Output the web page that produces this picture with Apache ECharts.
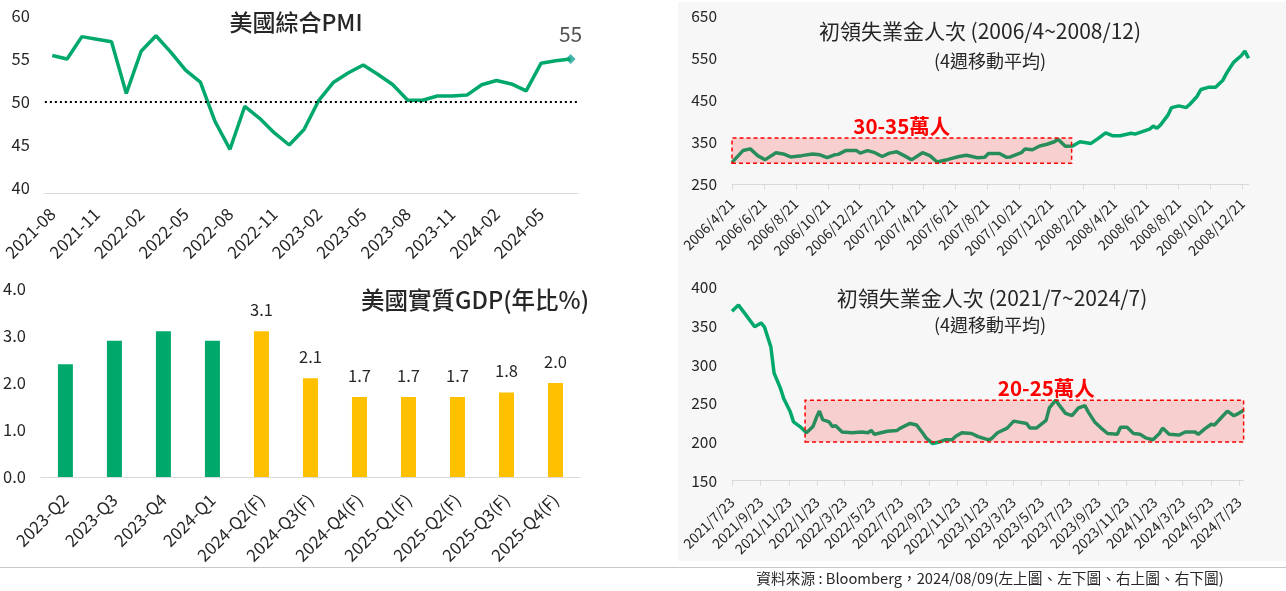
<!DOCTYPE html>
<html>
<head>
<meta charset="utf-8">
<script src="https://cdn.jsdelivr.net/npm/echarts@6/dist/echarts.min.js"></script>
<style>
html, body { margin: 0; padding: 0; background: #fff; }
#wrap { position: relative; width: 1286px; height: 591px; }
#panel { position: absolute; left: 678px; top: 2px; width: 608px; height: 559px; background: #f7f7f7; }
#rule { position: absolute; left: 0; top: 567px; width: 1286px; height: 1px; background: #c8c8c8; }
#main { position: absolute; left: 0; top: 0; width: 1286px; height: 591px; }
</style>
</head>
<body>
<div id="wrap"><div id="panel"></div><div id="rule"></div><div id="main"></div></div>
<script>
// 左上: 美國綜合PMI (2021-08 ~ 2024-07)
var pmiMonths = [];
(function () {
	var y = 2021, m = 8;
	for (var i = 0; i < 36; i++) {
		pmiMonths.push(y + '-' + (m < 10 ? '0' : '') + m);
		m++;
		if (m > 12) { m = 1; y++; }
	}
})();
var pmiValues = [55.4, 55.0, 57.6, 57.3, 57.0, 51.0, 55.9, 57.7, 55.8, 53.7, 52.3, 47.7,
	44.5, 49.5, 48.1, 46.4, 45.0, 46.8, 50.2, 52.3, 53.4, 54.3, 53.2, 52.0,
	50.2, 50.2, 50.7, 50.7, 50.8, 52.0, 52.5, 52.1, 51.3, 54.5, 54.8, 55.0];
var pmiLine = 50;

// 左下: 美國實質GDP(年比%)
var gdpQuarters = ['2023-Q2', '2023-Q3', '2023-Q4', '2024-Q1', '2024-Q2(F)', '2024-Q3(F)',
	'2024-Q4(F)', '2025-Q1(F)', '2025-Q2(F)', '2025-Q3(F)', '2025-Q4(F)'];
var gdpValues = [2.4, 2.9, 3.1, 2.9, 3.1, 2.1, 1.7, 1.7, 1.7, 1.8, 2.0];

// 右上: 初領失業金人次 (千人, 4週移動平均), 週數由 2006/4/21 起算
var topStart = '2006/4/21';
var topWeeks = [0, 3, 5, 7, 9, 12, 14, 16, 19, 22, 24, 26, 28, 29, 31, 34, 35, 37, 39, 41,
	43, 45, 47, 49, 52, 54, 56, 59, 62, 64, 67, 69, 70, 73, 75, 76, 79, 80, 82, 84,
	86, 88, 89, 91, 93, 95, 98, 100, 102, 104, 106, 109, 110, 112, 114, 115, 116, 117, 119, 120,
	122, 124, 125, 127, 128, 130, 132, 134, 135, 136, 137, 139, 140, 141];
var topClaims = [302, 330, 334, 318, 308, 325, 322, 315, 318, 322, 320, 313, 320, 321, 330, 330, 324, 330, 325, 316,
	324, 327, 318, 308, 325, 318, 303, 309, 316, 319, 313, 314, 323, 323, 314, 315, 325, 334, 332, 341,
	345, 351, 357, 340, 341, 351, 347, 359, 372, 365, 365, 371, 369, 375, 381, 388, 383, 391, 414, 432,
	436, 432, 440, 459, 475, 480, 480, 497, 513, 527, 540, 555, 566, 549];
var topTicks = ['2006/4/21', '2006/6/21', '2006/8/21', '2006/10/21', '2006/12/21', '2007/2/21',
	'2007/4/21', '2007/6/21', '2007/8/21', '2007/10/21', '2007/12/21', '2008/2/21', '2008/4/21',
	'2008/6/21', '2008/8/21', '2008/10/21', '2008/12/21'];
var topBandDates = ['2006/4/16', '2008/1/30'];
var topBand = [300, 360];

// 右下: 初領失業金人次 (千人, 4週移動平均), 週數由 2021/7/23 起算
var botStart = '2021/7/23';
var botWeeks = [0, 2, 4, 7, 9, 10, 12, 13, 15, 16, 18, 19, 21, 23, 25, 26, 27, 28, 30, 31,
	32, 34, 37, 40, 42, 43, 44, 46, 48, 51, 52, 55, 57, 59, 60, 62, 64, 66, 68, 69,
	71, 74, 76, 79, 80, 82, 85, 87, 91, 92, 94, 97, 98, 100, 101, 103, 105, 107, 109, 110,
	112, 114, 116, 119, 120, 122, 124, 126, 128, 130, 132, 133, 135, 138, 140, 143, 144, 146, 148, 149,
	151, 153, 155, 156, 158];
var botClaims = [369, 377, 366, 349, 354, 349, 323, 289, 269, 256, 239, 226, 220, 212, 220, 231, 240, 229, 226, 220,
	221, 213, 212, 213, 212, 215, 210, 212, 214, 215, 218, 224, 222, 211, 205, 198, 200, 203, 203, 207,
	212, 211, 207, 203, 204, 212, 218, 227, 224, 218, 218, 228, 244, 254, 248, 237, 234, 244, 247, 239,
	226, 218, 211, 210, 219, 219, 211, 210, 205, 203, 211, 218, 210, 209, 213, 213, 210, 217, 223, 222,
	231, 240, 234, 236, 241];
var botTicks = ['2021/7/23', '2021/9/23', '2021/11/23', '2022/1/23', '2022/3/23', '2022/5/23',
	'2022/7/23', '2022/9/23', '2022/11/23', '2023/1/23', '2023/3/23', '2023/5/23', '2023/7/23',
	'2023/9/23', '2023/11/23', '2024/1/23', '2024/3/23', '2024/5/23', '2024/7/23'];
var botBandDates = ['2021/12/28', '2024/8/18'];
var botBand = [200, 254];

var FONT = '"Noto Sans CJK TC", "Noto Sans", sans-serif';
var TXT = '#262626';
var GREEN = '#00a86b';
var AXIS = '#d9d9d9';

function dayDiff(from, to) {
	var a = from.split('/'), b = to.split('/');
	return (Date.UTC(+b[0], b[1] - 1, +b[2]) - Date.UTC(+a[0], a[1] - 1, +a[2])) / 86400000;
}

var topTickDays = topTicks.map(function (t) { return dayDiff(topStart, t); });
var botTickDays = botTicks.map(function (t) { return dayDiff(botStart, t); });
var topData = topWeeks.map(function (w, i) { return [w * 7, topClaims[i]]; });
var botData = botWeeks.map(function (w, i) { return [w * 7, botClaims[i]]; });

function dateAxis(grid, tickDays, ticks, max, margin) {
	return {
		type: 'value',
		gridIndex: grid,
		min: 0,
		max: max,
		splitLine: { show: false },
		axisLine: { show: true, lineStyle: { color: AXIS, width: 1 } },
		axisTick: { show: true, customValues: tickDays, length: 5, lineStyle: { color: AXIS } },
		axisLabel: {
			customValues: tickDays,
			rotate: 45,
			margin: margin,
			fontSize: 14,
			fontFamily: FONT,
			color: TXT,
			formatter: function (v) {
				var i = tickDays.indexOf(v);
				return i < 0 ? '' : ticks[i];
			}
		}
	};
}

function numAxis(grid, min, max, step, size, margin, fmt) {
	return {
		type: 'value',
		gridIndex: grid,
		min: min,
		max: max,
		interval: step,
		splitLine: { show: false },
		axisLine: { show: false },
		axisTick: { show: false },
		axisLabel: { fontSize: size, fontFamily: FONT, color: TXT, margin: margin, formatter: fmt }
	};
}

function band(dates, start, vals, text, offset) {
	return {
		silent: true,
		z: 6,
		itemStyle: {
			color: 'rgba(255, 0, 0, 0.16)',
			borderColor: '#ff0000',
			borderWidth: 1.5,
			borderType: [4, 3]
		},
		label: {
			show: true,
			position: 'top',
			distance: 1,
			offset: offset,
			formatter: text,
			color: '#ff0000',
			fontSize: 20.5,
			fontWeight: 'bold',
			fontFamily: FONT
		},
		data: [[
			{ xAxis: dayDiff(start, dates[0]), yAxis: vals[0] },
			{ xAxis: dayDiff(start, dates[1]), yAxis: vals[1] }
		]]
	};
}

var myChart = echarts.init(document.getElementById('main'), null, { renderer: 'canvas' });

var option = {
	backgroundColor: 'transparent',
	animation: false,
	textStyle: { fontFamily: FONT },
	grid: [
		{ left: 41, top: 16, width: 537, height: 172 },
		{ left: 40, top: 289, width: 540, height: 188 },
		{ left: 732, top: 15.7, width: 516.5, height: 168.6 },
		{ left: 732, top: 287.3, width: 511.6, height: 193.4 }
	],
	xAxis: [
		{
			type: 'category',
			gridIndex: 0,
			data: pmiMonths,
			boundaryGap: true,
			offset: 5,
			axisLine: { lineStyle: { color: AXIS } },
			axisTick: { interval: 2, length: 5, lineStyle: { color: AXIS } },
			axisLabel: { interval: 2, rotate: 45, margin: 18, fontSize: 17, fontFamily: FONT, color: TXT }
		},
		{
			type: 'category',
			gridIndex: 1,
			data: gdpQuarters,
			axisLine: { lineStyle: { color: AXIS } },
			axisTick: { show: false },
			axisLabel: { interval: 0, rotate: 45, margin: 20, fontSize: 17, fontFamily: FONT, color: TXT }
		},
		dateAxis(2, topTickDays, topTicks, topWeeks[topWeeks.length - 1] * 7, 17),
		dateAxis(3, botTickDays, botTicks, botWeeks[botWeeks.length - 1] * 7, 19)
	],
	yAxis: [
		numAxis(0, 40, 60, 5, 16.5, 15),
		numAxis(1, 0, 4, 1, 16.5, 15, function (v) { return v.toFixed(1); }),
		numAxis(2, 250, 650, 100, 15.5, 15),
		numAxis(3, 150, 400, 50, 15.5, 15)
	],
	series: [
		{
			type: 'line',
			xAxisIndex: 0,
			yAxisIndex: 0,
			data: pmiValues,
			showSymbol: false,
			lineStyle: { color: GREEN, width: 3.5 },
			markLine: {
				silent: true,
				symbol: 'none',
				label: { show: false },
				lineStyle: { color: '#000000', type: [2, 3], width: 1.8 },
				data: [{ yAxis: pmiLine }]
			}
		},
		{
			type: 'scatter',
			xAxisIndex: 0,
			yAxisIndex: 0,
			data: [[pmiMonths.length - 1, pmiValues[pmiValues.length - 1]]],
			symbol: 'diamond',
			symbolSize: 10,
			itemStyle: { color: '#1aa39c' },
			label: {
				show: true,
				position: 'top',
				distance: 9,
				fontSize: 21,
				fontFamily: FONT,
				color: TXT,
				formatter: function (p) { return Math.round(p.value[1]); }
			}
		},
		{
			type: 'bar',
			xAxisIndex: 1,
			yAxisIndex: 1,
			barWidth: 15,
			data: gdpValues.map(function (v, i) {
				var fc = gdpQuarters[i].indexOf('(F)') >= 0;
				return {
					value: v,
					itemStyle: { color: fc ? '#ffc000' : '#00a86b' },
					label: { show: fc }
				};
			}),
			label: {
				position: 'top',
				distance: 13,
				fontSize: 16.5,
				fontFamily: FONT,
				color: TXT,
				formatter: function (p) { return p.value.toFixed(1); }
			}
		},
		{
			type: 'line',
			xAxisIndex: 2,
			yAxisIndex: 2,
			data: topData,
			showSymbol: false,
			clip: false,
			lineStyle: { color: GREEN, width: 3.5 }
		},
		{
			type: 'line',
			xAxisIndex: 2,
			yAxisIndex: 2,
			z: 6,
			clip: false,
			data: [],
			markArea: band(topBandDates, topStart, topBand, '30-35萬人', [0, 0])
		},
		{
			type: 'line',
			xAxisIndex: 3,
			yAxisIndex: 3,
			data: botData,
			showSymbol: false,
			clip: false,
			lineStyle: { color: GREEN, width: 3.5 }
		},
		{
			type: 'line',
			xAxisIndex: 3,
			yAxisIndex: 3,
			z: 6,
			clip: false,
			data: [],
			markArea: band(botBandDates, botStart, botBand, '20-25萬人', [22, 0])
		}
	],
	graphic: [
		{ type: 'text', x: 296, y: 22, style: { text: '美國綜合PMI', font: '500 23px ' + FONT, fill: TXT, align: 'center', verticalAlign: 'middle' } },
		{ type: 'text', x: 589, y: 300, style: { text: '美國實質GDP(年比%)', font: '500 23.5px ' + FONT, fill: TXT, align: 'right', verticalAlign: 'middle' } },
		{ type: 'text', x: 980, y: 31, style: { text: '初領失業金人次 (2006/4~2008/12)', font: '21px ' + FONT, fill: TXT, align: 'center', verticalAlign: 'middle' } },
		{ type: 'text', x: 990, y: 61, style: { text: '(4週移動平均)', font: '18px ' + FONT, fill: TXT, align: 'center', verticalAlign: 'middle' } },
		{ type: 'text', x: 992, y: 298, style: { text: '初領失業金人次 (2021/7~2024/7)', font: '21px ' + FONT, fill: TXT, align: 'center', verticalAlign: 'middle' } },
		{ type: 'text', x: 990, y: 325, style: { text: '(4週移動平均)', font: '18px ' + FONT, fill: TXT, align: 'center', verticalAlign: 'middle' } },
		{ type: 'text', x: 990, y: 578, style: { text: '資料來源 : Bloomberg，2024/08/09(左上圖、左下圖、右上圖、右下圖)', font: '14.7px ' + FONT, fill: TXT, align: 'center', verticalAlign: 'middle' } }
	]
};

myChart.setOption(option);
</script>
</body>
</html>
